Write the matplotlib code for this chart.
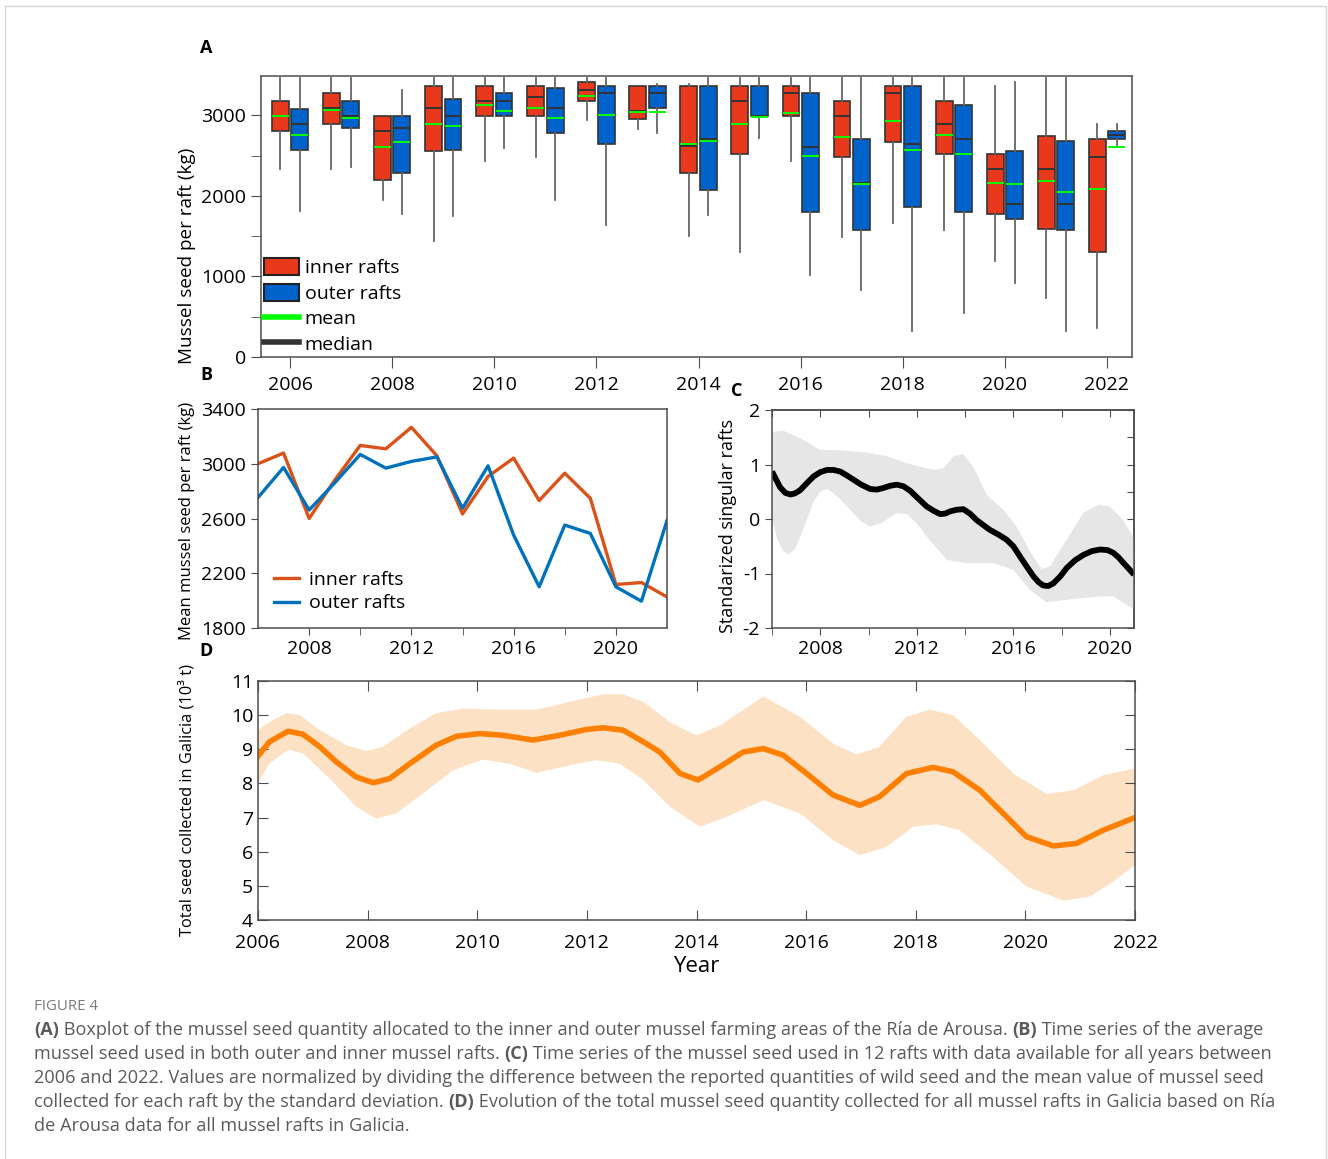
import numpy as np
import matplotlib
matplotlib.use("Agg")
import matplotlib.pyplot as plt
from matplotlib.patches import Patch, Rectangle
from matplotlib.lines import Line2D
from matplotlib.ticker import MultipleLocator, FixedLocator, NullFormatter

plt.rcParams['font.family'] = ['Open Sans', 'DejaVu Sans']
plt.rcParams['axes.linewidth'] = 1.1
plt.rcParams['axes.unicode_minus'] = False

# ---- panel A: boxplot stats per year (kg) ----
years = list(range(2006, 2023))

inner_whislo = [2333, 2333, 1955, 1441, 2433, 2478, 2945, 2830, 1503, 1301, 2433, 1491, 1665, 1582, 1193, 735, 363]
inner_q1 = [2805, 2900, 2200, 2560, 2995, 2995, 3180, 2950, 2288, 2523, 2995, 2482, 2672, 2523, 1780, 1594, 1301]
inner_med = [2995, 3090, 2805, 3090, 3180, 3230, 3320, 3050, 2618, 3180, 3275, 2995, 3275, 2900, 2333, 2333, 2478]
inner_q3 = [3185, 3275, 2995, 3370, 3370, 3370, 3416, 3370, 3370, 3370, 3370, 3180, 3370, 3180, 2523, 2746, 2708]
inner_whishi = [3470, 3470, 2995, 3470, 3470, 3470, 3470, 3370, 3390, 3470, 3470, 3470, 3470, 3470, 3370, 3470, 2900]
inner_mean = [2995, 3065, 2610, 2890, 3127, 3098, 3246, 3044, 2650, 2900, 3032, 2738, 2928, 2760, 2164, 2180, 2086]

outer_whislo = [1818, 2360, 1772, 1747, 2594, 1955, 1640, 2783, 1764, 2714, 1020, 830, 318, 549, 925, 318, 2610]
outer_q1 = [2570, 2850, 2288, 2570, 2995, 2783, 2643, 3090, 2074, 2995, 1805, 1582, 1863, 1805, 1714, 1582, 2708]
outer_med = [2900, 2995, 2850, 2995, 3180, 3090, 3275, 3275, 2708, 2995, 2610, 2160, 2650, 2708, 1900, 1900, 2760]
outer_q3 = [3085, 3180, 2995, 3205, 3275, 3346, 3370, 3370, 3370, 3370, 3275, 2708, 3370, 3135, 2560, 2684, 2805]
outer_whishi = [3470, 3470, 3320, 3470, 3470, 3470, 3470, 3390, 3470, 3470, 3470, 3470, 3470, 3470, 3416, 3470, 2900]
outer_mean = [2760, 2970, 2676, 2875, 3055, 2966, 3006, 3044, 2684, 2983, 2498, 2148, 2570, 2520, 2148, 2053, 2610]

# ---- panel B: mean seed per raft (kg) ----
inner_avg = [3000, 3078, 2600, 2880, 3134, 3109, 3266, 3058, 2633, 2907, 3041, 2731, 2931, 2748, 2118, 2132, 2027]
outer_avg = [2753, 2973, 2662, 2860, 3068, 2968, 3017, 3050, 2675, 2985, 2479, 2101, 2552, 2491, 2101, 1996, 2584]

# ---- panel C: standardized singular rafts ----
c_x = [2006.0, 2006.15, 2006.34, 2006.55, 2006.76, 2006.95, 2007.17, 2007.45, 2007.72, 2008.0,
       2008.28, 2008.55, 2008.83, 2009.1, 2009.38, 2009.7, 2010.07, 2010.35, 2010.62, 2010.9,
       2011.17, 2011.45, 2011.72, 2012.05, 2012.41, 2012.7, 2012.97, 2013.18, 2013.38, 2013.65,
       2013.93, 2014.2, 2014.48, 2014.75, 2015.03, 2015.4, 2015.72, 2016.0, 2016.28, 2016.55,
       2016.83, 2017.05, 2017.24, 2017.45, 2017.66, 2017.95, 2018.21, 2018.55, 2018.9, 2019.25,
       2019.59, 2019.9, 2020.14, 2020.35, 2020.55, 2020.8, 2021.0]
c_y = [0.87, 0.74, 0.58, 0.48, 0.45, 0.47, 0.53, 0.66, 0.78, 0.86,
       0.90, 0.90, 0.87, 0.80, 0.72, 0.63, 0.55, 0.54, 0.57, 0.61,
       0.63, 0.60, 0.52, 0.38, 0.23, 0.15, 0.09, 0.10, 0.14, 0.17,
       0.18, 0.10, -0.02, -0.11, -0.20, -0.29, -0.38, -0.50, -0.69, -0.87,
       -1.05, -1.16, -1.22, -1.23, -1.18, -1.05, -0.90, -0.76, -0.66, -0.59,
       -0.56, -0.57, -0.62, -0.70, -0.80, -0.92, -1.02]
c_up_x = [2006.0, 2006.48, 2007.17, 2008.0, 2008.83, 2009.93, 2010.76, 2011.59, 2012.69, 2013.1,
          2013.52, 2013.93, 2014.34, 2014.9, 2015.59, 2016.14, 2016.69, 2017.17, 2017.52, 2018.21,
          2018.9, 2019.52, 2020.0, 2020.55, 2021.0]
c_up = [1.60, 1.62, 1.48, 1.27, 1.26, 1.22, 1.15, 1.02, 0.90, 0.93,
        1.15, 1.19, 0.96, 0.44, 0.17, -0.14, -0.60, -0.92, -0.87, -0.38,
        0.11, 0.26, 0.23, -0.02, -0.35]
c_lo_x = [2006.0, 2006.2, 2006.45, 2006.7, 2006.95, 2007.2, 2007.45, 2007.7, 2008.0, 2008.28,
          2008.75, 2009.24, 2009.7, 2010.07, 2010.5, 2011.17, 2011.6, 2012.0, 2012.41, 2013.24,
          2014.07, 2015.17, 2016.0, 2016.69, 2017.38, 2018.21, 2019.59, 2020.14, 2021.0]
c_lo = [0.05, -0.35, -0.58, -0.65, -0.55, -0.3, 0.0, 0.3, 0.50, 0.56,
        0.40, 0.17, -0.05, -0.14, -0.08, 0.11, 0.09, -0.08, -0.32, -0.75,
        -0.81, -0.81, -0.93, -1.30, -1.53, -1.48, -1.42, -1.42, -1.66]

# ---- panel D: total seed collected in Galicia (10^3 t) ----
d_x = [2006.0, 2006.21, 2006.55, 2006.82, 2007.13, 2007.43, 2007.79, 2008.1, 2008.4, 2008.77,
       2009.25, 2009.62, 2010.04, 2010.47, 2011.02, 2011.5, 2011.99, 2012.3, 2012.66, 2013.03,
       2013.33, 2013.7, 2014.03, 2014.43, 2014.85, 2015.22, 2015.58, 2016.01, 2016.49, 2016.98,
       2017.34, 2017.83, 2018.32, 2018.68, 2019.17, 2019.66, 2020.02, 2020.51, 2020.93, 2021.42, 2022.0]
d_y = [8.80, 9.22, 9.53, 9.44, 9.07, 8.63, 8.19, 8.02, 8.14, 8.58,
       9.12, 9.38, 9.46, 9.41, 9.27, 9.41, 9.58, 9.63, 9.56, 9.22,
       8.92, 8.29, 8.10, 8.49, 8.92, 9.02, 8.83, 8.29, 7.66, 7.36,
       7.61, 8.29, 8.47, 8.34, 7.80, 7.02, 6.44, 6.17, 6.24, 6.63, 7.00]
d_up_x = [2006.0, 2006.21, 2006.52, 2006.76, 2007.13, 2007.61, 2007.98, 2008.28, 2008.77, 2009.25,
          2009.74, 2010.47, 2011.08, 2011.69, 2012.3, 2012.66, 2013.03, 2013.51, 2014.0, 2014.43,
          2015.22, 2015.89, 2016.49, 2016.92, 2017.34, 2017.83, 2018.26, 2018.68, 2019.17, 2019.78,
          2020.39, 2020.88, 2021.42, 2022.0]
d_up = [9.56, 9.80, 10.06, 10.0, 9.56, 9.12, 8.95, 9.07, 9.61, 10.06,
        10.19, 10.16, 10.16, 10.39, 10.61, 10.61, 10.39, 9.80, 9.41, 9.70,
        10.55, 9.95, 9.17, 8.85, 9.07, 9.95, 10.16, 10.0, 9.27, 8.29,
        7.69, 7.80, 8.24, 8.44]
d_lo_x = [2006.0, 2006.21, 2006.55, 2006.82, 2007.31, 2007.79, 2008.16, 2008.52, 2009.01, 2009.56,
          2010.1, 2010.59, 2011.08, 2011.69, 2012.17, 2012.6, 2013.03, 2013.51, 2014.06, 2014.55,
          2015.22, 2015.89, 2016.49, 2016.98, 2017.47, 2017.95, 2018.38, 2018.8, 2019.41, 2020.02,
          2020.69, 2021.18, 2021.6, 2022.0]
d_lo = [8.0, 8.58, 8.99, 8.88, 8.14, 7.32, 6.97, 7.12, 7.71, 8.39,
        8.70, 8.58, 8.31, 8.53, 8.68, 8.58, 8.10, 7.32, 6.73, 7.02,
        7.51, 7.12, 6.34, 5.90, 6.14, 6.73, 6.80, 6.63, 5.85, 4.98,
        4.57, 4.69, 5.12, 5.61]

RED = '#E8391D'
BLUE = '#0063CC'
GREEN = '#00FF00'
DARK = '#333333'
SPINE = '#4d4d4d'
TICK = 14

fig = plt.figure(figsize=(13.28, 11.59), dpi=100)
W, H = 1328.0, 1159.0


def ax_at(l, t, r, b):
    return fig.add_axes([l / W, 1 - b / H, (r - l) / W, (b - t) / H])


def style_spines(ax):
    for s in ax.spines.values():
        s.set_color(SPINE)


# ---------------- A ----------------
axA = ax_at(261, 76, 1132, 357)


def stats(lo, q1, med, q3, hi, mean):
    return [dict(whislo=a, q1=b, med=c, q3=d, whishi=e, mean=f, fliers=[])
            for a, b, c, d, e, f in zip(lo, q1, med, q3, hi, mean)]


for st, off, col in [(stats(inner_whislo, inner_q1, inner_med, inner_q3, inner_whishi, inner_mean), -0.19, RED),
                     (stats(outer_whislo, outer_q1, outer_med, outer_q3, outer_whishi, outer_mean), 0.19, BLUE)]:
    axA.bxp(st, positions=[y + off for y in years], widths=0.33, patch_artist=True,
            showmeans=True, meanline=True, showcaps=False, showfliers=False,
            boxprops=dict(facecolor=col, edgecolor=DARK, linewidth=1.2),
            medianprops=dict(color=DARK, linewidth=1.4),
            meanprops=dict(color=GREEN, linestyle='-', linewidth=1.4),
            whiskerprops=dict(color='#666666', linewidth=1.3), manage_ticks=False)

axA.set_xlim(2005.43, 2022.49)
axA.set_ylim(0, 3490)
axA.xaxis.set_major_locator(MultipleLocator(2))
axA.yaxis.set_major_locator(MultipleLocator(1000))
axA.yaxis.set_minor_locator(MultipleLocator(500))
axA.tick_params(axis='both', which='both', direction='out', labelsize=TICK, color=SPINE)
axA.tick_params(axis='x', length=8, pad=6)
axA.tick_params(axis='y', which='both', length=7)
axA.set_ylabel('Mussel seed per raft (kg)', fontsize=13.6)
axA.yaxis.set_label_coords(-0.075, 0.36)
style_spines(axA)
handlesA = [Patch(facecolor=RED, edgecolor='#222222', linewidth=1.5),
            Patch(facecolor=BLUE, edgecolor='#222222', linewidth=1.5),
            Line2D([], [], color=GREEN, linewidth=4),
            Line2D([], [], color=DARK, linewidth=4)]
axA.legend(handlesA, ['inner rafts', 'outer rafts', 'mean', 'median'], loc='lower left',
           frameon=False, fontsize=14, handlelength=1.8, handleheight=1.0, labelspacing=0.32,
           handletextpad=0.3, borderaxespad=0.1, borderpad=0.05)

# ---------------- B ----------------
axB = ax_at(258, 409, 667, 628)
axB.plot(years, inner_avg, color='#D95319', linewidth=2.4, label='inner rafts')
axB.plot(years, outer_avg, color='#0072BD', linewidth=2.4, label='outer rafts')
axB.set_xlim(2006, 2022)
axB.set_ylim(1800, 3400)
axB.xaxis.set_major_locator(FixedLocator([2008, 2012, 2016, 2020]))
axB.xaxis.set_minor_locator(FixedLocator([2010, 2014, 2018]))
axB.yaxis.set_major_locator(FixedLocator([1800, 2200, 2600, 3000, 3400]))
axB.tick_params(axis='both', which='both', direction='out', labelsize=TICK, color=SPINE, length=5)
axB.set_ylabel('Mean mussel seed per raft (kg)', fontsize=12)
axB.yaxis.set_label_coords(-0.155, 0.49)
style_spines(axB)
axB.legend(loc='lower left', frameon=False, fontsize=14, handlelength=1.3,
           labelspacing=0.3, handletextpad=0.5, borderaxespad=0.4)

# ---------------- C ----------------
axC = ax_at(772, 410, 1134, 628)
axC.fill(c_up_x + c_lo_x[::-1], c_up + c_lo[::-1], color='#E6E6E6', linewidth=0)
axC.plot(c_x, c_y, color='black', linewidth=4.2, solid_joinstyle='round', solid_capstyle='butt')
axC.set_xlim(2006, 2021)
axC.set_ylim(-2, 2)
axC.xaxis.set_major_locator(FixedLocator([2008, 2012, 2016, 2020]))
axC.xaxis.set_minor_locator(FixedLocator([2006, 2010, 2014, 2018]))
axC.yaxis.set_major_locator(MultipleLocator(1))
axC.tick_params(axis='both', which='both', direction='out', labelsize=TICK, color=SPINE, length=5)
axC.set_ylabel('Standarized singular rafts', fontsize=13)
axC.yaxis.set_label_coords(-0.097, 0.47)
style_spines(axC)
secx = axC.secondary_xaxis('top')
secx.xaxis.set_major_locator(MultipleLocator(2))
secx.xaxis.set_major_formatter(NullFormatter())
secx.tick_params(direction='in', length=5, color=SPINE)
secx.spines['top'].set_color(SPINE)
secy = axC.secondary_yaxis('right')
secy.yaxis.set_major_locator(MultipleLocator(0.5))
secy.yaxis.set_major_formatter(NullFormatter())
secy.tick_params(direction='in', length=5, color=SPINE)
secy.spines['right'].set_color(SPINE)

# ---------------- D ----------------
axD = ax_at(258, 681, 1135, 920)
axD.fill(d_up_x + d_lo_x[::-1], d_up + d_lo[::-1], color='#FDE1C4', linewidth=0)
axD.plot(d_x, d_y, color='#FF8000', linewidth=4.0, solid_joinstyle='round')
axD.set_xlim(2006, 2022)
axD.set_ylim(4, 11)
axD.xaxis.set_major_locator(MultipleLocator(2))
axD.yaxis.set_major_locator(MultipleLocator(1))
axD.tick_params(axis='both', direction='in', labelsize=TICK, color=SPINE, length=7,
                top=True, right=True)
axD.tick_params(axis='x', pad=10)
axD.set_xlabel('Year', fontsize=16, labelpad=3)
axD.set_ylabel('Total seed collected in Galicia (10³ t)', fontsize=11.8)
axD.yaxis.set_label_coords(-0.071, 0.5)
style_spines(axD)

# panel letters
for lab, x, y in [('A', 206, 48), ('B', 206, 375), ('C', 737, 391), ('D', 206, 651)]:
    fig.text(x / W, 1 - y / H, lab, fontsize=13, fontweight='bold', ha='center', va='center')

# outer frame
fig.patches.append(Rectangle((4.5 / W, -0.01), 1321 / W, 1 - 6 / H + 0.01, transform=fig.transFigure,
                             fill=False, edgecolor='#d6d6d6', linewidth=1.0))

# caption
CAP = '#5a5a5a'
fig.text(34 / W, 1 - 1006 / H, 'FIGURE 4', fontsize=10.8, color='#7a7a7a', va='center')
caption = [
    [('(A)', True), (' Boxplot of the mussel seed quantity allocated to the inner and outer mussel farming areas of the Ría de Arousa. ', False),
     ('(B)', True), (' Time series of the average', False)],
    [('mussel seed used in both outer and inner mussel rafts. ', False), ('(C)', True),
     (' Time series of the mussel seed used in 12 rafts with data available for all years between', False)],
    [('2006 and 2022. Values are normalized by dividing the difference between the reported quantities of wild seed and the mean value of mussel seed', False)],
    [('collected for each raft by the standard deviation. ', False), ('(D)', True),
     (' Evolution of the total mussel seed quantity collected for all mussel rafts in Galicia based on Ría', False)],
    [('de Arousa data for all mussel rafts in Galicia.', False)],
]
renderer = fig.canvas.get_renderer()
for i, segs in enumerate(caption):
    x = 34 / W
    y = 1 - (1030 + 24 * i) / H
    for txt, bold in segs:
        t = fig.text(x, y, txt, fontsize=13.1, color=CAP, va='center',
                     fontweight='bold' if bold else 'normal')
        x += t.get_window_extent(renderer).width / fig.bbox.width

fig.savefig('out.png', dpi=100)
